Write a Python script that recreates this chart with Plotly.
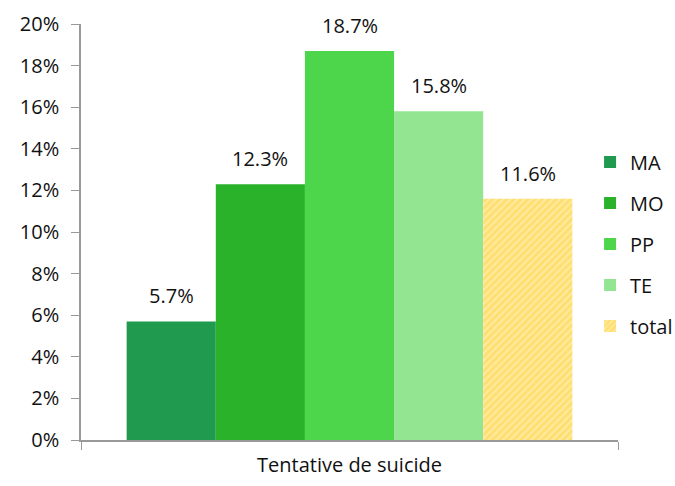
import plotly.graph_objects as go

category = ["Tentative de suicide"]
series_names = ["MA", "MO", "PP", "TE", "total"]
series_values = [0.057, 0.123, 0.187, 0.158, 0.116]
colors = ["#1f9a4f", "#29b22a", "#4dd64b", "#93e592", "#ffd84a"]

BARGAP = 0.17
FONT = "Open Sans, Lato, sans-serif"

fig = go.Figure()
n = len(series_names)
w = (1 - BARGAP) / n
for i, (name, val, col) in enumerate(zip(series_names, series_values, colors)):
    marker = dict(color=col, line=dict(width=0))
    if name == "total":
        marker = dict(color="#ffe98c", line=dict(width=0),
                      pattern=dict(shape="/", fgcolor="#ffd035", bgcolor="#ffefb0",
                                   size=5, solidity=0.72))
    fig.add_trace(go.Bar(
        x=category, y=[val], name=name, marker=marker, legendgroup=name,
    ))
    fig.add_annotation(
        x=-0.5 + BARGAP / 2 + (i + 0.5) * w, y=val, xref="x", yref="y",
        text=f"{val*100:.1f}%", showarrow=False, yanchor="bottom", yshift=10,
        font=dict(size=20, color="#111", family=FONT),
    )

fig.update_layout(
    width=675, height=486,
    margin=dict(l=81, r=57, t=24, b=46, autoexpand=False),
    paper_bgcolor="white", plot_bgcolor="white",
    barmode="group", bargap=BARGAP, bargroupgap=0,
    font=dict(family=FONT, size=20, color="#111"),
    legend=dict(x=0.948, y=0.715, xanchor="left", yanchor="top",
                font=dict(size=20), tracegroupgap=12, itemwidth=30,
                bgcolor="rgba(0,0,0,0)"),
    showlegend=True,
)
fig.update_yaxes(range=[0, 0.2], dtick=0.02, tickformat=".0%", showgrid=False,
                 showline=True, linecolor="#999", linewidth=1.5,
                 ticks="outside", ticklen=8, tickcolor="#999", zeroline=False,
                 ticklabelstandoff=8, tickfont=dict(size=20), automargin=False)
fig.update_xaxes(range=[-0.5, 0.5], showline=True, linecolor="#999", linewidth=1.5,
                 ticks="outside", tickson="boundaries", ticklen=8, tickcolor="#999",
                 ticklabelstandoff=6, tickfont=dict(size=20), automargin=False)

fig.write_html("out.html", config={"displayModeBar": False},
               post_script="document.body.style.margin='0';document.body.style.overflow='hidden';")
